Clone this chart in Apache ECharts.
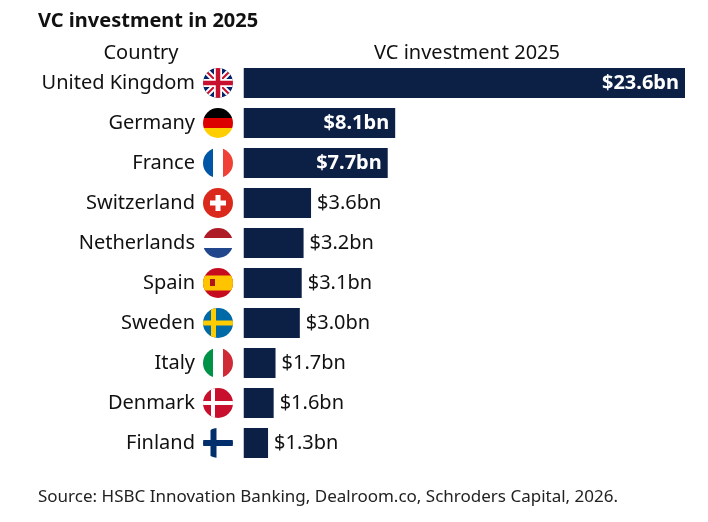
<!DOCTYPE html>
<html><head><meta charset="utf-8">
<script src="https://cdn.jsdelivr.net/npm/echarts@6/dist/echarts.min.js"></script>
<style>html,body{margin:0;padding:0;background:#fff}#c{width:708px;height:522px}</style>
</head><body><div id="c"></div>
<script>
var countries = ['United Kingdom','Germany','France','Switzerland','Netherlands','Spain','Sweden','Italy','Denmark','Finland']
var values = [23.6,8.1,7.7,3.6,3.2,3.1,3.0,1.7,1.6,1.3]
var flagKeys = ['uk','de','fr','ch','nl','es','se','it','dk','fi']

var flagSvg = {
  uk:'<rect width="30" height="30" fill="#012169"/><path d="M0 0L30 30M30 0L0 30" stroke="#fff" stroke-width="6"/><path d="M0 0L30 30M30 0L0 30" stroke="#C8102E" stroke-width="2"/><path d="M15 0V30M0 15H30" stroke="#fff" stroke-width="8"/><path d="M15 0V30M0 15H30" stroke="#C8102E" stroke-width="4.5"/>',
  de:'<rect width="30" height="10" fill="#000"/><rect y="10" width="30" height="10" fill="#DD0000"/><rect y="20" width="30" height="10" fill="#FFCE00"/>',
  fr:'<rect width="10" height="30" fill="#0055A4"/><rect x="10" width="10" height="30" fill="#fff"/><rect x="20" width="10" height="30" fill="#EF4135"/>',
  ch:'<rect width="30" height="30" fill="#DA291C"/><rect x="12.5" y="7" width="5" height="16" fill="#fff"/><rect x="7" y="12.5" width="16" height="5" fill="#fff"/>',
  nl:'<rect width="30" height="10" fill="#AE1C28"/><rect y="10" width="30" height="10" fill="#fff"/><rect y="20" width="30" height="10" fill="#21468B"/>',
  es:'<rect width="30" height="30" fill="#C60B1E"/><rect y="7.5" width="30" height="15" fill="#FFC400"/><rect x="7" y="11" width="5" height="7" fill="#AD1519"/>',
  se:'<rect width="30" height="30" fill="#006AA7"/><rect x="8" width="5" height="30" fill="#FECC00"/><rect y="12.5" width="30" height="5" fill="#FECC00"/>',
  it:'<rect width="10" height="30" fill="#009246"/><rect x="10" width="10" height="30" fill="#fff"/><rect x="20" width="10" height="30" fill="#CE2B37"/>',
  dk:'<rect width="30" height="30" fill="#C8102E"/><rect x="8" width="4" height="30" fill="#fff"/><rect y="13" width="30" height="4" fill="#fff"/>',
  fi:'<rect width="30" height="30" fill="#fff"/><rect x="7.5" width="6" height="30" fill="#002F6C"/><rect y="12" width="30" height="6" fill="#002F6C"/>'
}
var flagUrl = k => 'data:image/svg+xml;charset=utf-8,' + encodeURIComponent(
  '<svg xmlns="http://www.w3.org/2000/svg" width="60" height="60" viewBox="0 0 30 30"><defs><clipPath id="c"><circle cx="15" cy="15" r="15"/></clipPath></defs><g clip-path="url(#c)">' + flagSvg[k] + '</g></svg>')

var rich = {name:{fontSize:20,color:'#111',fontFamily:'Noto Sans',padding:[0,8,0,0]}}
flagKeys.forEach(k=>{ rich[k] = {width:30,height:30,backgroundColor:{image:flagUrl(k)}} })

var chart = echarts.init(document.getElementById('c'))
chart.setOption({
  animation:false,
  textStyle:{fontFamily:'Noto Sans'},
  title:[
    {text:'VC investment in 2025',left:33,top:6,textStyle:{fontSize:20,fontWeight:'bold',color:'#111',fontFamily:'Noto Sans'}},
    {text:'Country',left:136,top:38,textAlign:'center',textStyle:{fontSize:20,fontWeight:'normal',color:'#111',fontFamily:'Noto Sans'}},
    {text:'VC investment 2025',left:462,top:38,textAlign:'center',textStyle:{fontSize:20,fontWeight:'normal',color:'#111',fontFamily:'Noto Sans'}},
    {text:'Source: HSBC Innovation Banking, Dealroom.co, Schroders Capital, 2026.',left:33,top:484,textStyle:{fontSize:17,fontWeight:'normal',color:'#222',fontFamily:'Noto Sans'}}
  ],
  grid:{left:240,right:23,top:63,bottom:59},
  xAxis:{type:'value',min:-0.2,max:23.6,show:false},
  yAxis:{type:'category',inverse:true,data:countries,
    axisLine:{show:false},axisTick:{show:false},
    axisLabel:{margin:7,formatter:(v,i)=>'{name|'+v+'}{'+flagKeys[i]+'|}',rich:rich}},
  series:[{type:'bar',barWidth:30,itemStyle:{color:'#0c1f44'},
    data:values.map(v=>({value:v,label:{show:true,
      position:v>=5?'insideRight':'right',
      color:v>=5?'#fff':'#111',fontWeight:v>=5?'bold':'normal',
      fontSize:20,distance:6,formatter:'$'+v.toFixed(1)+'bn'}}))}]
})
</script></body></html>
